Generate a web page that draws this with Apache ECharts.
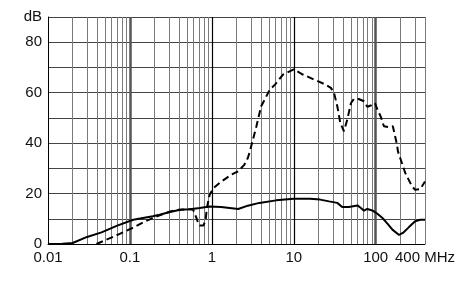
<!DOCTYPE html>
<html><head><meta charset="utf-8">
<script src="https://cdn.jsdelivr.net/npm/echarts@6/dist/echarts.min.js"></script>
<style>html,body{margin:0;padding:0;background:#fff}#c{width:475px;height:300px}</style>
</head><body><div id="c"></div>
<script>
// Data (frequency in MHz, level in dB)
const solidFreq = [0.01, 0.015, 0.02, 0.03, 0.045, 0.07, 0.11, 0.19, 0.23, 0.3, 0.41, 0.54, 0.71, 0.94, 1.3, 2.1, 2.75, 3.8, 6.1, 10, 15.7, 21, 27, 34, 39, 47, 60, 66, 72, 79, 91, 105, 121, 140, 160, 193, 215, 255, 303, 350, 400];
const solidDb   = [0, 0.1, 0.4, 2.8, 4.6, 7.3, 9.6, 11.0, 11.6, 12.6, 13.6, 13.8, 14.3, 14.9, 14.7, 13.9, 15.2, 16.3, 17.3, 17.9, 17.9, 17.6, 16.9, 16.3, 14.7, 14.7, 15.3, 14.3, 13.2, 13.9, 13.3, 12, 10.3, 8, 5.7, 3.6, 4.4, 6.7, 9, 9.6, 9.6];
const dashFreq = [0.039, 0.043, 0.05, 0.075, 0.11, 0.15, 0.2, 0.31, 0.4, 0.54, 0.59, 0.65, 0.68, 0.71, 0.79, 0.84, 0.87, 0.94, 1.05, 1.25, 1.73, 2.1, 2.5, 2.75, 2.95, 3.5, 4.0, 5.1, 5.9, 7.4, 10, 12.9, 17.7, 24.5, 28.4, 31, 34, 37, 41, 45, 50, 54.5, 62, 72, 79, 87, 98, 105, 115, 126, 145, 162, 182, 187, 230, 277, 303, 350, 400];
const dashDb   = [0, 0.6, 1.5, 4.0, 6.5, 8.8, 10.6, 12.9, 13.6, 13.8, 13.6, 10.3, 8.3, 7.3, 7.3, 9.6, 14.3, 19.5, 22.2, 24.3, 27.5, 28.8, 31.5, 34.1, 37.4, 46.7, 54.6, 61.2, 63.2, 67.2, 69.2, 67.2, 65.2, 63.2, 61.9, 59.9, 54.6, 48, 44.7, 49.3, 55.9, 57.6, 57.5, 56.6, 54.4, 54.9, 55.9, 53.3, 50.6, 46.7, 46.3, 46.7, 39.4, 36.7, 28.1, 22.9, 21.5, 21.8, 24.8];
const xTickLabels = [0.01, 0.1, 1, 10, 100, 400];
const decades = [0.01, 0.1, 1, 10, 100];
const minorMultipliers = [2, 3, 4, 5, 6, 7, 8, 9];
const thickDecades = [0.1, 100];
const blackDecades = [1, 10];

const minorLines = [];
decades.forEach(d => minorMultipliers.forEach(m => { const v = +(d * m).toPrecision(3); if (v <= 400) minorLines.push(v); }));

function vLines(vals) { return vals.map(v => ({ xAxis: v })); }
function gridSeries(vals, color, width, z) {
  return { type: 'line', data: [], silent: true, z: z,
    markLine: { silent: true, symbol: ['none', 'none'], animation: false, label: { show: false },
      lineStyle: { color: color, width: width, type: 'solid' }, data: vLines(vals) } };
}
const font = 'Liberation Sans, Arial, sans-serif';
const chart = echarts.init(document.getElementById('c'), null, { renderer: 'canvas' });
chart.setOption({
  animation: false,
  backgroundColor: '#fff',
  grid: { left: 48, right: 50, top: 17, bottom: 56 },
  xAxis: {
    type: 'log', logBase: 10, min: 0.01, max: 400,
    axisLine: { show: true, lineStyle: { color: '#000', width: 1 } },
    axisTick: { show: false },
    splitLine: { show: false },
    axisLabel: {
      customValues: xTickLabels, margin: 6, color: '#111', fontSize: 15, fontFamily: font,
      formatter: v => (Math.abs(v - 400) < 1e-6 ? '400 MHz' : String(+v.toPrecision(3)))
    }
  },
  yAxis: {
    type: 'value', min: 0, max: 90, interval: 10,
    axisLine: { show: true, lineStyle: { color: '#000', width: 1 } },
    axisTick: { show: false },
    splitLine: { show: true, lineStyle: { color: '#444', width: 1 } },
    axisLabel: {
      margin: 6, color: '#111', fontSize: 15, fontFamily: font,
      formatter: v => (v === 90 ? 'dB' : (v % 20 === 0 ? String(v) : ''))
    }
  },
  series: [
    gridSeries(minorLines, '#7a7a7a', 1, 1),
    gridSeries(thickDecades, '#555', 2.5, 1),
    gridSeries(blackDecades, '#000', 1.2, 1),
    { type: 'line', name: 'solid', z: 5, showSymbol: false, symbol: 'none',
      lineStyle: { color: '#000', width: 2 },
      data: solidFreq.map((f, i) => [f, solidDb[i]]) },
    { type: 'line', name: 'dashed', z: 5, showSymbol: false, symbol: 'none',
      lineStyle: { color: '#000', width: 2, type: [7, 4] },
      data: dashFreq.map((f, i) => [f, dashDb[i]]) }
  ]
});
</script></body></html>
